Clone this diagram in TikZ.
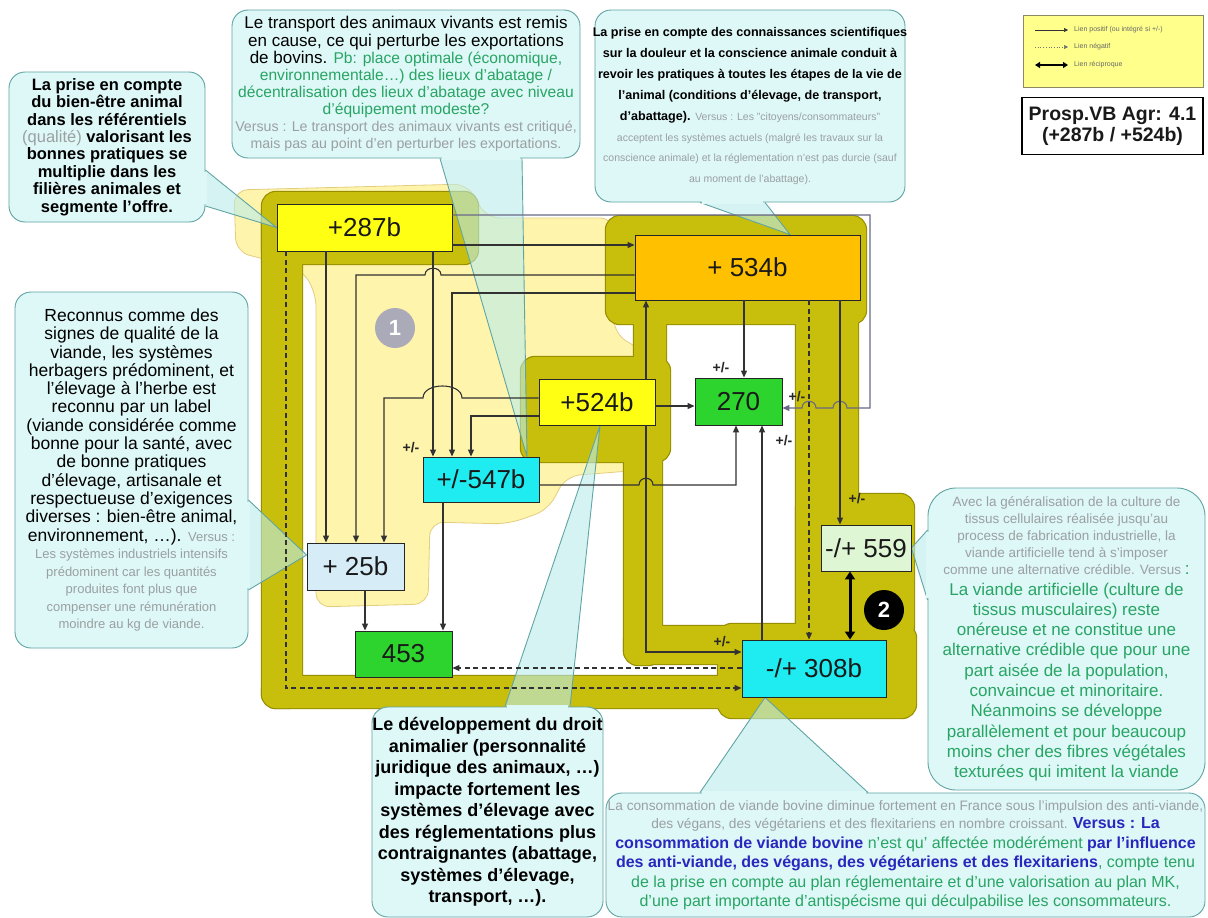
\documentclass[tikz,border=0pt]{standalone}
\usepackage{fontspec}
\setmainfont{Liberation Sans}
\usetikzlibrary{arrows.meta,calc}

\definecolor{olivefill}{RGB}{200,190,12}
\definecolor{oliveedge}{RGB}{150,142,0}
\definecolor{paleyel}{RGB}{255,244,172}
\definecolor{paleedge}{RGB}{228,205,125}
\definecolor{callfill}{RGB}{222,247,247}
\definecolor{calledge}{RGB}{96,164,164}
\definecolor{ptrfill}{RGB}{185,236,236}
\definecolor{boxyel}{RGB}{255,255,20}
\definecolor{boxorg}{RGB}{255,192,0}
\definecolor{boxgrn}{RGB}{45,212,45}
\definecolor{boxcyan}{RGB}{30,236,240}
\definecolor{boxblue}{RGB}{214,236,246}
\definecolor{boxmint}{RGB}{222,246,212}
\definecolor{linkcol}{RGB}{50,50,50}
\definecolor{toplink}{RGB}{105,105,135}
\definecolor{txtgray}{RGB}{155,160,162}
\definecolor{txtgreen}{RGB}{40,165,100}
\definecolor{txtblue}{RGB}{40,40,190}
\definecolor{legfill}{RGB}{255,255,140}
\definecolor{legedge}{RGB}{140,135,100}
\definecolor{badgegray}{RGB}{170,170,184}

\pgfdeclarelayer{shapes}
\pgfdeclarelayer{pointers}
\pgfsetlayers{shapes,pointers,main}

% one centred line of a callout: size, baseline skip, content
\newcommand\calline[3]{{\fontsize{#1}{#2}\selectfont\hbox to\hsize{\hss#3\hss}}}

% the olive bands that group the variables into two loops
\newcommand\olivepaths[1]{%
  \path[#1] (262,198) rectangle (302,708);
  \path[#1] (262,192) rectangle (478,264);
  \path[#1] (262,676) rectangle (760,708);
  \path[#1] (718,624) rectangle (916,718);
  \path[#1] (796,230) rectangle (858,640);
  \path[#1] (796,494) rectangle (914,640);
  \path[#1] (606,216) rectangle (866,324);
  \path[#1] (634,296) rectangle (666,372);
  \path[#1] (521,357) rectangle (670,462);
  \path[#1] (624,420) rectangle (662,665);
  \path[#1] (624,626) rectangle (760,664);
}

\tikzset{
  box/.style={draw=black!85, line width=0.9pt, inner sep=0pt, text=black!90,
    font=\fontsize{26}{26}\selectfont},
  link/.style={draw=linkcol, line width=1.1pt, -{Triangle[length=7pt,width=6pt]}},
  neg/.style={link, dash pattern=on 5pt off 3.5pt},
  recip/.style={draw=black, line width=3pt,
    {Triangle[length=8pt,width=10pt]}-{Triangle[length=8pt,width=10pt]}},
  pm/.style={inner sep=0pt, text=black!85, font=\bfseries\fontsize{14}{14}\selectfont},
  callout/.style={draw=calledge, fill=callfill, line width=0.9pt,
    rounded corners=16pt, inner sep=0pt},
  ptrbody/.style={fill=ptrfill, fill opacity=0.6},
  ptrside/.style={draw=calledge, line width=0.9pt},
  seam/.style={draw=callfill, line width=2.8pt, shorten <=1.6pt, shorten >=1.6pt},
  badge/.style={circle, inner sep=0pt, minimum size=40pt, text=white,
    font=\bfseries\fontsize{22}{22}\selectfont},
  legtxt/.style={inner sep=0pt, anchor=west, text=black!60,
    font=\fontsize{7}{7}\selectfont},
}

% callout pointer: base point, base point, tip
\newcommand\pointer[3]{%
  \begin{pgfonlayer}{pointers}
    \fill[ptrbody] #1 -- #3 -- #2 -- cycle;
    \draw[ptrside] #1 -- #3 -- #2;
  \end{pgfonlayer}
  \draw[seam] #1 -- #2;
}

\begin{document}
\begin{tikzpicture}[x=1pt,y=-1pt]
\useasboundingbox (0,0) rectangle (1208,918);

\begin{pgfonlayer}{shapes}
  \fill[white] (0,0) rectangle (1208,918);
  \filldraw[fill=paleyel, draw=paleedge, line width=0.8pt, rounded corners=14pt]
    (234,190) -- (468,184) -- (486,218) -- (614,218) -- (614,334) -- (642,350)
    -- (642,470) -- (566,476) -- (548,510) -- (508,524) -- (430,522) -- (428,604)
    -- (316,607) -- (316,292) -- (300,268) -- (236,252) -- cycle;
  \olivepaths{draw=oliveedge, line width=2.4pt, rounded corners=14pt}
  \olivepaths{fill=olivefill, rounded corners=14pt}
\end{pgfonlayer}

% variables
\node[box, fill=boxyel, minimum width=175pt, minimum height=47pt] (b287) at (364.5,227.5) {+287b};
\node[box, fill=boxorg, minimum width=225pt, minimum height=65pt] (b534) at (747.5,267.5) {+ 534b};
\node[box, fill=boxyel, minimum width=116pt, minimum height=46pt] (b524) at (597,402) {+524b};
\node[box, fill=boxgrn, minimum width=87pt, minimum height=47pt] (b270) at (738.5,401.5) {270};
\node[box, fill=boxcyan, minimum width=116pt, minimum height=45pt] (b547) at (481,479.5) {+/-547b};
\node[box, fill=boxblue, minimum width=97pt, minimum height=47pt] (b25) at (355.5,566.5) {+ 25b};
\node[box, fill=boxmint, minimum width=90pt, minimum height=46pt] (b559) at (866,548) {-/+ 559};
\node[box, fill=boxgrn, minimum width=97pt, minimum height=46pt] (b453) at (403.5,654) {453};
\node[box, fill=boxcyan, minimum width=144pt, minimum height=57pt] (b308) at (814,668.5) {-/+ 308b};

\node[badge, fill=badgegray] (one) at (395,328) {1};
\node[badge, fill=black] (two) at (884,610) {2};

% links
\draw[link] (b287.east |- 0,245) -- (b534.west |- 0,245);
\draw[link, draw=toplink] (b287.east |- 0,215) -- (870,215) -- (870,408)
  -- (847,408) .. controls (847,399) and (833,399) .. (833,408)
  -- (816,408) .. controls (816,399) and (802,399) .. (802,408)
  -- (b270.east |- 0,408);
\draw[link] (b287.south -| 326,0) -- (b25.north -| 326,0);
\draw[link] (b287.south -| 433,0) -- (b547.north -| 433,0);
\draw[link] (b534.west |- 0,275) -- (441,275) .. controls (441,266) and (425,266) .. (425,275)
  -- (356,275) -- (b25.north -| 356,0);
\draw[link] (b534.west |- 0,293) -- (452,293) -- (b547.north -| 452,0);
\draw[link] (b524.west |- 0,398) -- (462,398) .. controls (462,382) and (423,382) .. (423,398)
  -- (384,398) -- (b25.north -| 384,0);
\draw[link] (b524.west |- 0,416) -- (471,416) -- (b547.north -| 471,0);
\draw[link] (b524.north -| 646,0) -- (b534.south -| 646,0);
\draw[link] (b524.east |- 0,406) -- (b270.west |- 0,406);
\draw[link] (b524.south -| 646,0) -- (646,652) -- (b308.west |- 0,652);
\draw[link] (b534.south -| 744,0) -- (b270.north -| 744,0);
\draw[link] (b547.east |- 0,485) -- (639,485) .. controls (639,476) and (653,476) .. (653,485)
  -- (736,485) -- (b270.south -| 736,0);
\draw[link] (b308.north -| 762,0) -- (b270.south -| 762,0);
\draw[neg] (b534.south -| 809,0) -- (b308.north -| 809,0);
\draw[link] (b534.south -| 840,0) -- (b559.north -| 840,0);
\draw[recip] (b559.south -| 850,0) -- (b308.north -| 850,0);
\draw[link] (b25.south -| 365,0) -- (b453.north -| 365,0);
\draw[link] (b547.south -| 443,0) -- (b453.north -| 443,0);
\draw[neg] (b308.west |- 0,668) -- (b453.east |- 0,668);
\draw[neg] (b287.south -| 286,0) -- (286,688) -- (b308.west |- 0,688);

\node[pm] (pm1) at (411,448) {+/-};
\node[pm] (pm2) at (721,368) {+/-};
\node[pm] (pm3) at (797,397) {+/-};
\node[pm] (pm4) at (784,441) {+/-};
\node[pm] (pm5) at (857,499) {+/-};
\node[pm] (pm6) at (722,642) {+/-};

% callouts
\node[callout, minimum width=196pt, minimum height=150pt] (c1) at (107,147) {\vbox{\hsize=192pt\bfseries
  \calline{16.5}{17.4}{La prise en compte}
  \calline{16.5}{17.4}{du bien-être animal}
  \calline{16.5}{17.4}{dans les référentiels}
  \calline{16.5}{17.4}{{\mdseries\color{txtgray}(qualité)} valorisant les}
  \calline{16.5}{17.4}{bonnes pratiques se}
  \calline{16.5}{17.4}{multiplie dans les}
  \calline{16.5}{17.4}{filières animales et}
  \calline{16.5}{17.4}{segmente l'offre.}}};
\pointer{(c1.east |- 0,170)}{(c1.east |- 0,206)}{(b287.west)}

\node[callout, minimum width=348pt, minimum height=148pt] (c2) at (406,84) {\vbox{\hsize=344pt
  \calline{17}{17.5}{Le transport des animaux  vivants est remis}
  \calline{17}{17.5}{en cause, ce qui perturbe les exportations}
  \calline{17}{17.5}{de bovins. {\fontsize{15.6}{17.5}\selectfont\color{txtgreen}Pb: place optimale (économique,}}
  \calline{15.6}{17}{\color{txtgreen}environnementale…) des lieux d'abatage /}
  \calline{15.6}{17}{\color{txtgreen}décentralisation des lieux d'abatage avec niveau}
  \calline{15.6}{17}{\color{txtgreen}d'équipement modeste?}
  \calline{14.2}{17}{\color{txtgray}Versus : Le transport des animaux vivants  est critiqué,}
  \calline{14.2}{16.5}{\color{txtgray}mais pas au point d'en perturber les exportations.}}};
\pointer{(c2.south -| 440,0)}{(c2.south -| 522,0)}{(b547.north -| 527,0)}

\node[callout, minimum width=310pt, minimum height=192pt] (c3) at (750,106) {\vbox{\hsize=306pt\bfseries
  \calline{12.6}{21}{La prise en compte des connaissances scientifiques}
  \calline{12.6}{21}{sur la douleur et la conscience animale conduit à}
  \calline{12.6}{21}{revoir les pratiques à toutes les étapes de la vie de}
  \calline{12.6}{21}{l'animal  (conditions d'élevage, de transport,}
  \calline{12.6}{21}{d'abattage). {\mdseries\fontsize{10.5}{21}\selectfont\color{txtgray}Versus : Les "citoyens/consommateurs"}}
  \mdseries
  \calline{10.5}{20.5}{\color{txtgray}acceptent les systèmes actuels (malgré les travaux  sur la}
  \calline{10.5}{20.5}{\color{txtgray}conscience animale) et la réglementation  n'est pas durcie (sauf}
  \calline{10.5}{20.5}{\color{txtgray}au moment  de l'abattage).}}};
\pointer{(c3.south -| 700,0)}{(c3.south -| 765,0)}{(b534.north -| 790,0)}

\node[callout, minimum width=233pt, minimum height=356pt] (c4) at (131.5,470) {\vbox{\hsize=229pt
  \calline{17.5}{18.3}{Reconnus comme des}
  \calline{17.5}{18.3}{signes de qualité de la}
  \calline{17.5}{18.3}{viande, les systèmes}
  \calline{17.5}{18.3}{herbagers prédominent, et}
  \calline{17.5}{18.3}{l'élevage à l'herbe est}
  \calline{17.5}{18.3}{reconnu par un label}
  \calline{17.5}{18.3}{(viande considérée comme}
  \calline{17.5}{18.3}{bonne pour la santé, avec}
  \calline{17.5}{18.3}{de bonne pratiques}
  \calline{17.5}{18.3}{d'élevage, artisanale et}
  \calline{17.5}{18.3}{respectueuse d'exigences}
  \calline{17.5}{18.3}{diverses : bien-être animal,}
  \calline{17.5}{18.3}{environnement, …). {\fontsize{13}{18.3}\selectfont\color{txtgray}Versus :}}
  \calline{13}{17.5}{\color{txtgray}Les systèmes industriels intensifs}
  \calline{13}{17.5}{\color{txtgray}prédominent car les quantités}
  \calline{13}{17.5}{\color{txtgray}produites font plus que}
  \calline{13}{17.5}{\color{txtgray}compenser une rémunération}
  \calline{13}{17.5}{\color{txtgray}moindre au kg de viande.}}};
\pointer{(c4.east |- 0,500)}{(c4.east |- 0,590)}{(b25.west |- 0,555)}

\node[callout, rounded corners=28pt, minimum width=277pt, minimum height=302pt] (c5) at (1066.5,639) {\vbox{\hsize=273pt
  \calline{13.5}{17}{\color{txtgray}Avec la généralisation de la culture de}
  \calline{13.5}{17}{\color{txtgray}tissus cellulaires réalisée jusqu'au}
  \calline{13.5}{17}{\color{txtgray}process de fabrication industrielle, la}
  \calline{13.5}{17}{\color{txtgray}viande artificielle tend à s'imposer}
  \calline{13.5}{17}{\color{txtgray}comme une alternative crédible. Versus {\fontsize{17}{17}\selectfont\color{txtgreen}:}}
  \calline{17}{20.3}{\color{txtgreen}La viande artificielle (culture de}
  \calline{17}{20.3}{\color{txtgreen}tissus musculaires) reste}
  \calline{17}{20.3}{\color{txtgreen}onéreuse et ne constitue une}
  \calline{17}{20.3}{\color{txtgreen}alternative crédible que pour une}
  \calline{17}{20.3}{\color{txtgreen}part aisée de la population,}
  \calline{17}{20.3}{\color{txtgreen}convaincue et minoritaire.}
  \calline{17}{20.3}{\color{txtgreen}Néanmoins se développe}
  \calline{17}{20.3}{\color{txtgreen}parallèlement et pour beaucoup}
  \calline{17}{20.3}{\color{txtgreen}moins cher des fibres végétales}
  \calline{17}{20.3}{\color{txtgreen}texturées qui imitent la viande}}};
\pointer{(c5.west |- 0,530)}{(c5.west |- 0,600)}{(b559.east)}

\node[callout, minimum width=231pt, minimum height=210pt] (c6) at (487.5,812) {\vbox{\hsize=229pt\bfseries
  \calline{18}{21.5}{Le développement du droit}
  \calline{18}{21.5}{animalier (personnalité}
  \calline{18}{21.5}{juridique des animaux, …)}
  \calline{18}{21.5}{impacte fortement les}
  \calline{18}{21.5}{systèmes d'élevage avec}
  \calline{18}{21.5}{des réglementations plus}
  \calline{18}{21.5}{contraignantes (abattage,}
  \calline{18}{21.5}{systèmes d'élevage,}
  \calline{18}{21.5}{transport, …).}}};
\pointer{(c6.north -| 505,0)}{(c6.north -| 570,0)}{(b524.south -| 600,0)}

\node[callout, minimum width=599pt, minimum height=124pt] (c7) at (905.5,855) {\vbox{\hsize=595pt
  \calline{13.7}{17}{\color{txtgray}La consommation de viande bovine diminue fortement en France sous l'impulsion des anti-viande,}
  \calline{13.7}{18.5}{\color{txtgray}des végans, des végétariens et des flexitariens en nombre croissant. {\fontsize{16}{18.5}\selectfont\bfseries\color{txtblue}Versus : La}}
  \calline{16}{19.5}{\bfseries\color{txtblue}consommation de viande bovine {\mdseries\color{txtgreen}n'est qu' affectée modérément} par l'influence}
  \calline{16}{19.5}{\bfseries\color{txtblue}des anti-viande, des végans, des végétariens et des flexitariens{\mdseries\color{txtgreen}, compte tenu}}
  \calline{16}{19.5}{\color{txtgreen}de la prise en compte au plan réglementaire et d'une valorisation au plan MK,}
  \calline{16}{19.5}{\color{txtgreen}d'une part importante d'antispécisme qui déculpabilise les consommateurs.}}};
\pointer{(c7.north -| 700,0)}{(c7.north -| 868,0)}{(b308.south -| 765,0)}

% legend
\node[draw=legedge, fill=legfill, line width=0.8pt, minimum width=180pt, minimum height=72pt, inner sep=0pt] (legend) at (1113,51) {};
\coordinate (lg1a) at (1035,30); \coordinate (lg1b) at (1068,30);
\coordinate (lg2a) at (1035,47); \coordinate (lg2b) at (1068,47);
\coordinate (lg3a) at (1035,65); \coordinate (lg3b) at (1068,65);
\draw[draw=black!80, line width=0.7pt, -{Triangle[length=4pt,width=4pt]}] (lg1a) -- (lg1b);
\draw[draw=black!55, line width=0.7pt, dotted, -{Triangle[length=4pt,width=4pt]}] (lg2a) -- (lg2b);
\draw[draw=black, line width=2.2pt, {Triangle[length=5pt,width=6pt]}-{Triangle[length=5pt,width=6pt]}] (lg3a) -- (lg3b);
\node[legtxt] (lt1) at (1074,30) {Lien positif (ou intégré si +/-)};
\node[legtxt] (lt2) at (1074,47) {Lien négatif};
\node[legtxt] (lt3) at (1074,65) {Lien réciproque};

\node[draw=black, line width=1.1pt, fill=white, minimum width=181pt, minimum height=57pt,
  inner sep=0pt, align=center, text=black!90, font=\bfseries\fontsize{19.5}{21}\selectfont]
  (prosp) at (1112.5,126) {Prosp.VB Agr: 4.1\\(+287b / +524b)};
\end{tikzpicture}
\end{document}
